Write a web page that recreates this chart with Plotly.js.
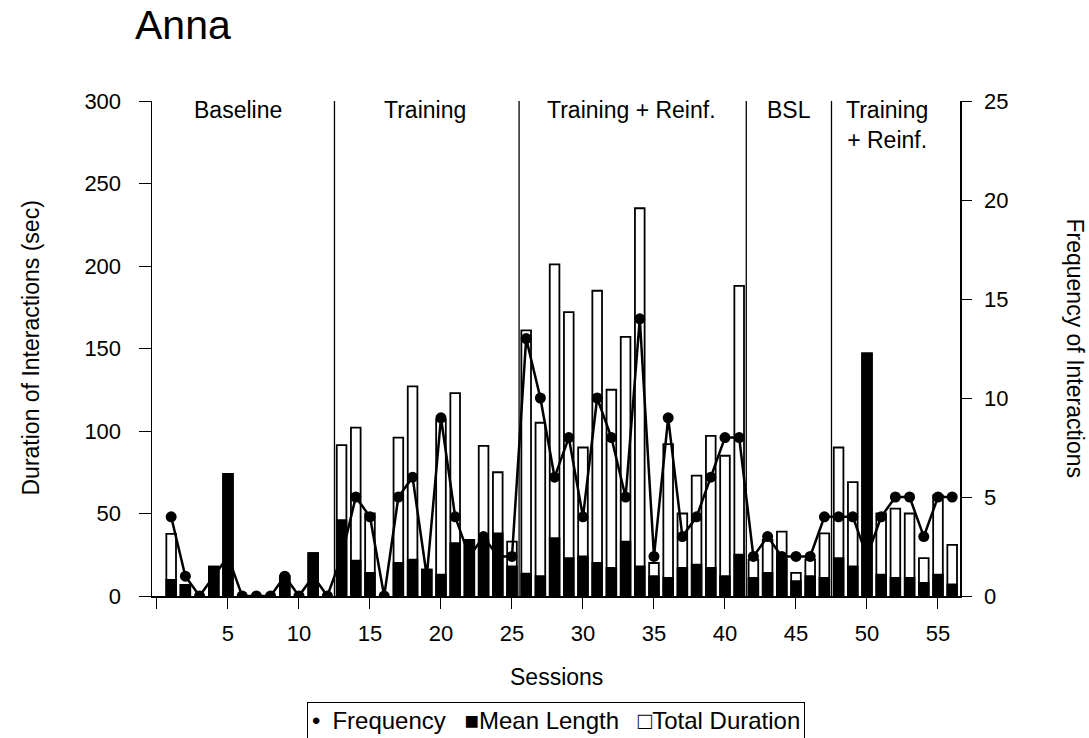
<!DOCTYPE html>
<html>
<head>
<meta charset="utf-8">
<script src="https://cdn.plot.ly/plotly-3.0.1.min.js"></script>
<style>html,body{margin:0;padding:0;background:#fff;}#chart{width:1089px;height:738px;}</style>
</head>
<body>
<div id="chart"></div>
<script>
const sessions = [1,2,3,4,5,6,7,8,9,10,11,12,13,14,15,16,17,18,19,20,21,22,23,24,25,26,27,28,29,30,31,32,33,34,35,36,37,38,39,40,41,42,43,44,45,46,47,48,49,50,51,52,53,54,55,56];
const totalDuration = [37.6,6.7,0,17.8,74,0,0,0,12,0,26,0,91.5,102,50,0,96,127,16,107,123,34,91,75,33,161,105,201,172,90,185,125,157,235,20,92,50,73,97,85,188,22,34,39,14,22,38,90,69,147,50,53,50,23,61,31];
const meanLength = [9.7,6.7,0,17.8,74,0,0,0,12,0,26,0,46,21.5,14,0,20,22,16,13,32,34,34,38,18,13.5,12,35,23,24,20,17,33,18,12,11,17,19,17,12,25,11,14,22,9,12,11,23,18,147,13,11,11,8,13,7];
const frequency = [4,1,0,1,2,0,0,0,1,0,1,0,2,5,4,0,5,6,1,9,4,2,3,2,2,13,10,6,8,4,10,8,5,14,2,9,3,4,6,8,8,2,3,2,2,2,4,4,4,2,4,5,5,3,5,5];
const phaseBoundaries = [12.5, 25.5, 41.5, 47.5];
const phaseLabels = ["Baseline", "Training", "Training + Reinf.", "BSL", "Training<br>+ Reinf."];
const phaseLabelX = [5.7, 18.9, 33.45, 44.5, 51.4];
const xTickVals = [0,5,10,15,20,25,30,35,40,45,50,55];
const xTickText = ["","5","10","15","20","25","30","35","40","45","50","55"];
const legendItems = ["Frequency", "Mean Length", "Total Duration"];

const FONT = "Liberation Sans, Arial, sans-serif";
const BW = 0.68;

const traces = [
  {type:'bar', x:sessions, y:totalDuration, name:'Total Duration', width:BW,
   marker:{color:'#ffffff', line:{color:'#000', width:1.8}}, hoverinfo:'skip'},
  {type:'bar', x:sessions, y:meanLength, name:'Mean Length', width:BW,
   marker:{color:'#000', line:{color:'#000', width:1.8}}, hoverinfo:'skip'},
  {type:'scatter', mode:'lines+markers', x:sessions, y:frequency, yaxis:'y2', name:'Frequency',
   line:{color:'#000', width:2.5}, marker:{color:'#000', size:11}}
];

const shapes = phaseBoundaries.map(b => ({type:'line', xref:'x', yref:'paper', x0:b, x1:b, y0:0, y1:1,
  line:{color:'#000', width:1.3}}));

const annotations = phaseLabels.map((t,i) => ({
  text:t, x:phaseLabelX[i], xref:'x', yref:'paper',
  y: i===4 ? 1.012 : 0.982, yanchor: i===4 ? 'top' : 'middle', xanchor:'center',
  showarrow:false, font:{family:FONT, size:23, color:'#000'}
}));
annotations.push({text:'Duration of Interactions (sec)', textangle:-90, xref:'paper', yref:'paper',
  x:(30-152)/808, y:0.5, xanchor:'center', yanchor:'middle', showarrow:false,
  font:{family:FONT, size:23, color:'#000'}});
annotations.push({text:'Frequency of Interactions', textangle:90, xref:'paper', yref:'paper',
  x:(1075-152)/808, y:0.5, xanchor:'center', yanchor:'middle', showarrow:false,
  font:{family:FONT, size:23, color:'#000'}});
annotations.push({text:'Sessions', xref:'paper', yref:'paper',
  x:0.5, y:(596-677)/495, xanchor:'center', yanchor:'middle', showarrow:false,
  font:{family:FONT, size:23, color:'#000'}});
const legendText = '•\u2002' + legendItems[0] +
  '\u2002 ■' + legendItems[1] + '\u2002 □' + legendItems[2];
annotations.push({text:legendText, xref:'paper', yref:'paper',
  x:(556-152)/808, y:(596-720)/495, xanchor:'center', yanchor:'middle', showarrow:false,
  bordercolor:'#000', borderwidth:1, borderpad:4, bgcolor:'#fff',
  font:{family:FONT, size:24, color:'#000'}});

const tf = {family:FONT, size:22, color:'#000'};
const layout = {
  width:1089, height:738,
  margin:{l:152, r:129, t:101, b:142, autoexpand:false},
  paper_bgcolor:'#fff', plot_bgcolor:'#fff',
  barmode:'overlay', showlegend:false,
  font:{family:FONT, color:'#000'},
  title:{text:'Anna', x:135/1089, xanchor:'left', xref:'container', y:1-25/738, yanchor:'middle',
    font:{family:FONT, size:41, color:'#000'}},
  xaxis:{range:[-0.35,56.55], tickmode:'array', tickvals:xTickVals, ticktext:xTickText,
    ticks:'outside', ticklen:11, tickcolor:'#000', tickwidth:1, ticklabelstandoff:6,
    showline:true, linecolor:'#000', linewidth:1.5,
    showgrid:false, zeroline:false, tickfont:tf},
  yaxis:{range:[0,300], dtick:50, ticks:'outside', ticklen:12, tickcolor:'#000', ticklabelstandoff:13,
    showline:true, linecolor:'#000', linewidth:1.5, showgrid:false, zeroline:false, tickfont:tf},
  yaxis2:{range:[0,25], dtick:5, overlaying:'y', side:'right', ticks:'outside', ticklen:10, tickcolor:'#000',
    ticklabelstandoff:8, showline:true, linecolor:'#000', linewidth:1.5, showgrid:false, zeroline:false,
    tickfont:tf},
  shapes:shapes, annotations:annotations
};

Plotly.newPlot('chart', traces, layout, {displayModeBar:false, staticPlot:true});
</script>
</body>
</html>
